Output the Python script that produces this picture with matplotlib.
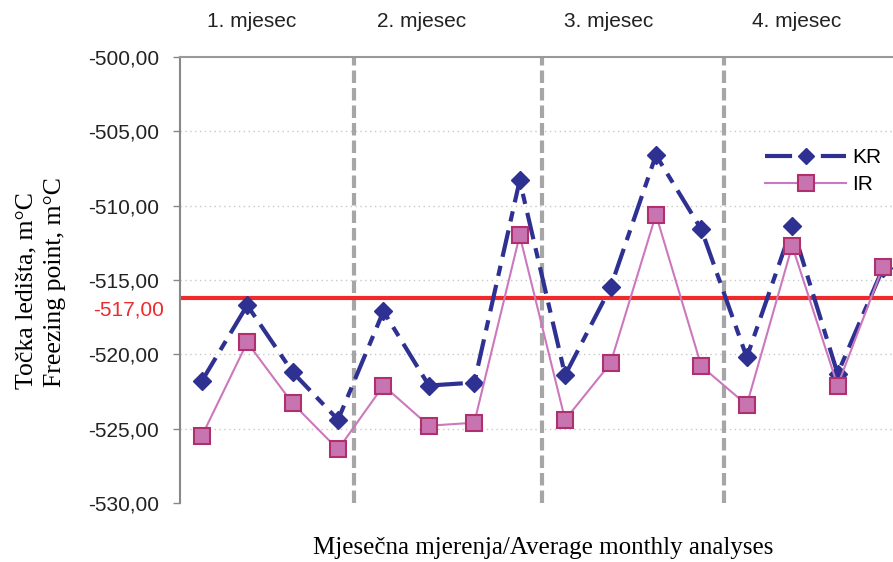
import numpy as np
import matplotlib
matplotlib.use("Agg")
import matplotlib.pyplot as plt
from matplotlib.lines import Line2D

# values (m°C)
kr = [-521.8, -516.7, -521.2, -524.4, -517.1, -522.1, -521.9, -508.3,
      -521.4, -515.5, -506.6, -511.6, -520.2, -511.4, -521.3, -514.2]
ir = [-525.5, -519.2, -523.3, -526.4, -522.1, -524.8, -524.6, -512.0,
      -524.4, -520.6, -510.6, -520.8, -523.4, -512.7, -522.1, -514.1]
months = ["1. mjesec", "2. mjesec", "3. mjesec", "4. mjesec"]
month_label_pos = [1.1, 4.85, 8.95, 13.1]
month_dividers = [3.35, 7.5, 11.5]
yticks = [-500, -505, -510, -515, -520, -525, -530]
limit_line = -516.2
limit_label = -517

kr_color = "#2E3192"
ir_line = "#CC78BC"
ir_face = "#C774B0"
ir_edge = "#B0306E"
grid_gray = "#A6A6A6"

plt.rcParams["font.family"] = ["Liberation Sans", "DejaVu Sans"]

fig = plt.figure(figsize=(8.93, 5.62), dpi=100)
ax = fig.add_axes([180 / 893, 59 / 562, 713 / 893, 446 / 562])

x = np.arange(len(kr))

for v in yticks[1:-1]:
    ax.axhline(v, color="#C8C8C8", lw=1, ls=(0, (1, 2.5)), zorder=1)

for d in month_dividers:
    ax.axvline(d, color=grid_gray, lw=3, ls=(0, (3, 1.2)), zorder=1)

ax.axhline(limit_line, color="#EE2A2A", lw=3, zorder=2)

ax.plot(x, ir, color=ir_line, lw=1.5, marker="s", markersize=12,
        markerfacecolor=ir_face, markeredgecolor=ir_edge, markeredgewidth=1.5,
        zorder=4, label="IR")
ax.plot(x, kr, color=kr_color, lw=3, ls=(0, (6.5, 2.2, 2.5, 2.2)),
        marker="D", markersize=9.5, markerfacecolor=kr_color,
        markeredgecolor=kr_color, zorder=3, label="KR")

ax.set_xlim(-0.48, 15.22)
ax.set_ylim(-530, -500)
ax.set_yticks(yticks)
ax.set_yticklabels([f"{v:.2f}".replace(".", ",") for v in yticks],
                   fontsize=15, color="#222222")
ax.tick_params(axis="y", length=5, width=1, color="#888888", pad=10)
ax.tick_params(axis="x", length=0, labelbottom=False)

ax.text(-0.48 - 16 / 45.4, limit_label, f"{limit_label:.2f}".replace(".", ","),
        color="#EE2A2A", fontsize=15, ha="right", va="center")

for sp in ["right", "bottom"]:
    ax.spines[sp].set_visible(False)
ax.spines["left"].set_color("#888888")
ax.spines["left"].set_linewidth(1.5)
ax.spines["top"].set_color("#999999")
ax.spines["top"].set_linewidth(1.5)

for pos, name in zip(month_label_pos, months):
    ax.text(pos, -497.6, name, fontsize=15, color="#222222",
            ha="center", va="center")

fig.text(26 / 893, 1 - 291 / 562, "Točka ledišta, m°C", rotation=90,
         family="Liberation Serif", fontsize=18.5, ha="center", va="center")
fig.text(55 / 893, 1 - 282 / 562, "Freezing point, m°C", rotation=90,
         family="Liberation Serif", fontsize=18.5, ha="center", va="center")
fig.text(543 / 893, 1 - 548 / 562, "Mjesečna mjerenja/Average monthly analyses",
         family="Liberation Serif", fontsize=18, ha="center", va="center")

handles = [
    Line2D([], [], color=kr_color, lw=3, ls=(0, (6.5, 2.2, 2.5, 2.2)),
           marker="D", markersize=8, markerfacecolor=kr_color),
    Line2D([], [], color=ir_line, lw=1.5, marker="s", markersize=11,
           markerfacecolor=ir_face, markeredgecolor=ir_edge, markeredgewidth=1.5),
]
fig.legend(handles, ["KR", "IR"], loc="upper left",
           bbox_to_anchor=(765 / 893, 1 - 148 / 562), frameon=False,
           fontsize=15, handlelength=3.9, handletextpad=0.3, borderpad=0,
           borderaxespad=0, labelspacing=0.4)

fig.savefig("out.png", dpi=100)
